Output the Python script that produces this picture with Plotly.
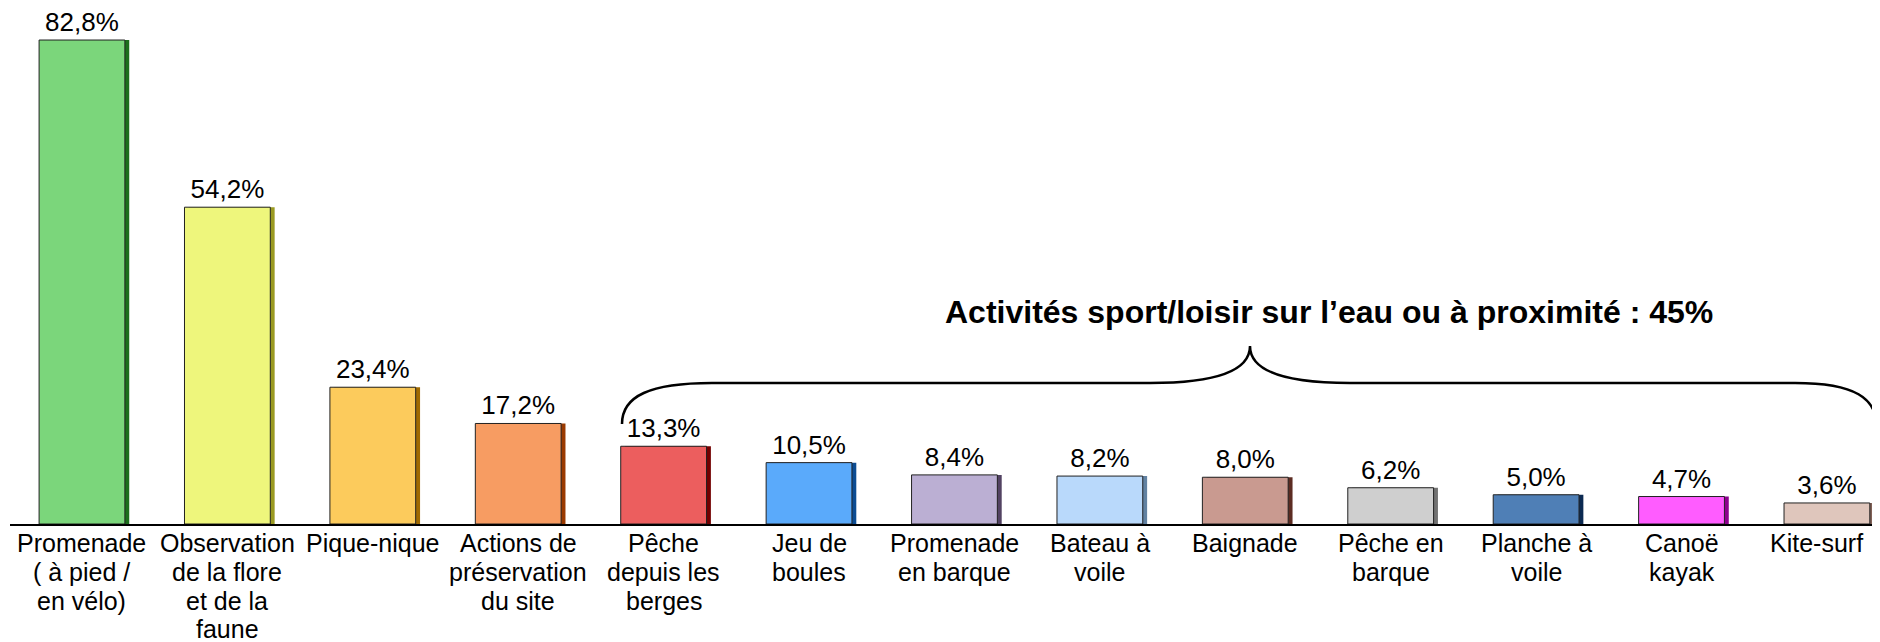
import plotly.graph_objects as go

# Activities and share of respondents (%)
activites = [
    "Promenade<br>( à pied /<br>en vélo)",
    "Observation<br>de la flore<br>et de la<br>faune",
    "Pique-nique",
    "Actions de<br>préservation<br>du site",
    "Pêche<br>depuis les<br>berges",
    "Jeu de<br>boules",
    "Promenade<br>en barque",
    "Bateau à<br>voile",
    "Baignade",
    "Pêche en<br>barque",
    "Planche à<br>voile",
    "Canoë<br>kayak",
    "Kite-surf",
]
pourcentages = [82.8, 54.2, 23.4, 17.2, 13.3, 10.5, 8.4, 8.2, 8.0, 6.2, 5.0, 4.7, 3.6]

# bar face colours and darker side colours
couleurs = ["#7bd67b", "#eef67c", "#fccb5c", "#f79c62", "#ec5e5e", "#5aaafb",
            "#bbafd3", "#b9d9fb", "#c99a90", "#cfcfcf", "#4f7fb6", "#ff5cff", "#dfc6bc"]
cotes = ["#1c6e1c", "#9a9a22", "#a06a00", "#9a3a00", "#720000", "#0c4c92",
         "#524262", "#6282a2", "#5c2c22", "#727272", "#0c2a52", "#8c008c", "#826258"]

W, H = 1880, 642
PAGE = 8  # default body margin of the html page
ML, MR, MT, MB = 2, 0, 0, 126
bw = 0.59
police = "Liberation Sans, Arial"

fig = go.Figure()

# side of the bars (3D look)
fig.add_trace(go.Bar(
    x=activites, y=pourcentages,
    width=bw, offset=-bw / 2 + 0.03,
    marker=dict(color=cotes, line=dict(width=0)),
    hoverinfo="skip", showlegend=False,
))

# bar faces
fig.add_trace(go.Bar(
    x=activites, y=pourcentages,
    width=bw, offset=-bw / 2,
    marker=dict(color=couleurs, line=dict(width=1, color="#222222")),
    texttemplate="%{y:.1f}%", textposition="outside",
    textfont=dict(size=26, color="black", family=police),
    cliponaxis=False, showlegend=False,
))

# category labels, one annotation per line for tighter line spacing
for i, lab in enumerate(activites):
    for k, ligne in enumerate(lab.split("<br>")):
        fig.add_annotation(
            x=lab, y=0, xref="x", yref="y", text=ligne, showarrow=False,
            xanchor="center", yanchor="middle",
            yshift=-(19 + k * 28.8), xshift=-10 if i == len(activites) - 1 else 0,
            font=dict(size=25, color="black", family=police),
        )


def px(x, y):
    # screen pixel -> paper coordinates
    xf, yf = x - PAGE, y - PAGE
    return (xf - ML) / (W - ML - MR), (H - MB - yf) / (H - MT - MB)


def path(points):
    out = ""
    for cmd, pts in points:
        out += cmd + " " + " ".join("%.5f,%.5f" % px(*p) for p in pts) + " "
    return out.strip()


accolade = path([
    ("M", [(622, 424)]),
    ("C", [(622, 396), (650, 383), (712, 383)]),
    ("L", [(1150, 383)]),
    ("C", [(1212, 383), (1250, 372), (1250, 346)]),
    ("C", [(1250, 372), (1288, 383), (1350, 383)]),
    ("L", [(1795, 383)]),
    ("C", [(1855, 383), (1877, 398), (1877, 428)]),
])

fig.add_shape(type="path", path=accolade, xref="paper", yref="paper",
              line=dict(color="black", width=2.5))

fig.add_annotation(
    text="<b>Activités sport/loisir sur l’eau ou à proximité : 45%</b>",
    x=px(1329, 312)[0], y=px(1329, 312)[1], xref="paper", yref="paper",
    showarrow=False, xanchor="center", yanchor="middle",
    font=dict(size=32, color="black", family=police),
)

fig.update_layout(
    width=W, height=H,
    margin=dict(l=ML, r=MR, t=MT, b=MB, autoexpand=False),
    paper_bgcolor="white", plot_bgcolor="white",
    barmode="overlay",
    separators=", ",
    font=dict(family=police, color="black"),
    xaxis=dict(
        range=[-0.495, 12.42], automargin=False,
        showline=True, linecolor="black", linewidth=2,
        showgrid=False, ticks="", showticklabels=False,
    ),
    yaxis=dict(range=[0, 88.28], visible=False, showgrid=False, automargin=False),
)

fig.write_html("out.html")
